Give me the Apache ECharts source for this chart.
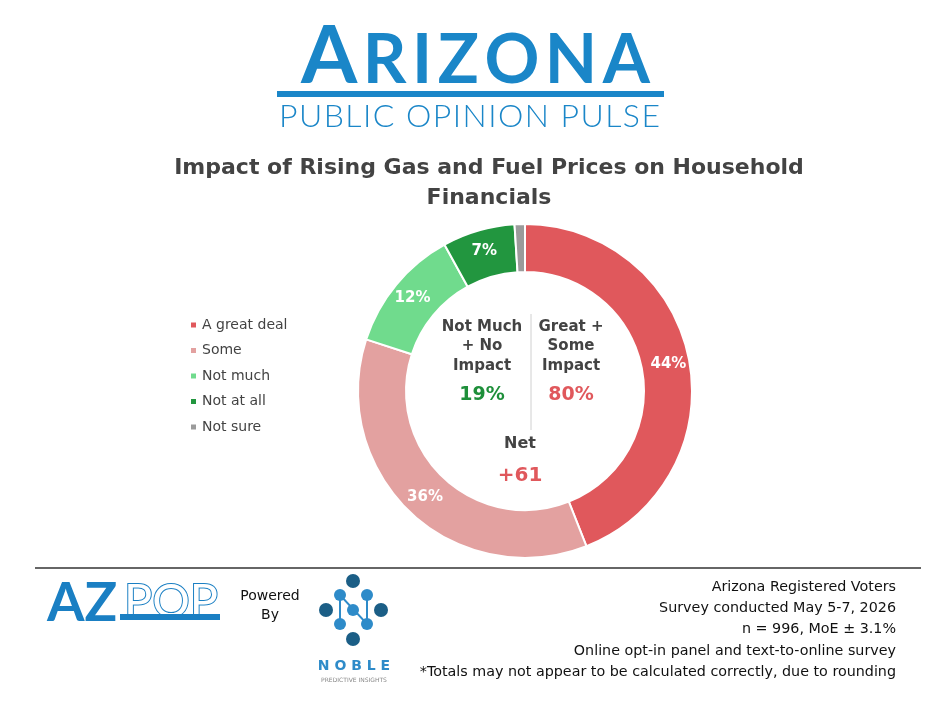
<!DOCTYPE html>
<html><head><meta charset="utf-8">
<script src="https://cdn.jsdelivr.net/npm/echarts@6/dist/echarts.min.js"></script>
<style>html,body{margin:0;padding:0;background:#fff}#c{width:936px;height:706px}</style>
</head><body><div id="c"></div>
<script>
const categories = ['A great deal', 'Some', 'Not much', 'Not at all', 'Not sure'];
const values = [44, 36, 12, 7, 1];
const colors = ['#E0585C', '#E3A1A0', '#70DB8D', '#22963F', '#9B9B9B'];
const summaryLeftLabel = ['Not Much', '+ No', 'Impact'];
const summaryLeftValue = '19%';
const summaryRightLabel = ['Great +', 'Some', 'Impact'];
const summaryRightValue = '80%';
const netLabel = 'Net';
const netValue = '+61';
const footerLines = [
  'Arizona Registered Voters',
  'Survey conducted May 5-7, 2026',
  'n = 996, MoE \u00b1 3.1%',
  'Online opt-in panel and text-to-online survey',
  '*Totals may not appear to be calculated correctly, due to rounding'
];

const F = 'DejaVu Sans';
const BLUE = '#1A86C8';
const chart = echarts.init(document.getElementById('c'));
const mctx = document.createElement('canvas').getContext('2d');

// lay out letters spread to fill a given width
function spreadText(gfx, letters, x0, x1, capBottom, color) {
  const widths = letters.map(l => { mctx.font = l.weight + ' ' + l.size + 'px Lato'; return mctx.measureText(l.ch).width; });
  const total = widths.reduce((a,b)=>a+b,0);
  const gap = (x1 - x0 - total) / (letters.length - 1);
  let x = x0;
  letters.forEach((l,i) => {
    if (l.ch !== ' ') gfx.push({type:'text', left:x, top:capBottom - 0.83*l.size,
      style:{text:l.ch, font:l.weight + ' ' + l.size + 'px Lato', fill:color}});
    x += widths[i] + gap;
  });
}

const gfx = [];
// Header logo
spreadText(gfx, [{ch:'A',size:81,weight:'bold'}].concat('RIZONA'.split('').map(c=>({ch:c,size:68,weight:'bold'}))), 301, 650, 84, BLUE);
gfx.push({type:'rect', shape:{x:277, y:91, width:387, height:6}, style:{fill:BLUE}});
spreadText(gfx, 'PUBLIC OPINION PULSE'.split('').map(c=>({ch:c,size:32,weight:'300'})), 279, 660, 127, BLUE);
// centre summary
summaryLeftLabel.forEach((t,i)=>gfx.push({type:'text', x:482, y:327+i*19.5, style:{text:t, font:'bold 15px "'+F+'"', fill:'#434343', align:'center', verticalAlign:'middle'}}));
gfx.push({type:'text', x:482, y:395, style:{text:summaryLeftValue, font:'bold 19px "'+F+'"', fill:'#1E8F3A', align:'center', verticalAlign:'middle'}});
summaryRightLabel.forEach((t,i)=>gfx.push({type:'text', x:571, y:327+i*19.5, style:{text:t, font:'bold 15px "'+F+'"', fill:'#434343', align:'center', verticalAlign:'middle'}}));
gfx.push({type:'text', x:571, y:395, style:{text:summaryRightValue, font:'bold 19px "'+F+'"', fill:'#E0585C', align:'center', verticalAlign:'middle'}});
gfx.push({type:'line', shape:{x1:531, y1:314, x2:531, y2:430}, style:{stroke:'#D0D0D0', lineWidth:1}});
gfx.push({type:'text', x:520, y:444, style:{text:netLabel, font:'bold 16px "'+F+'"', fill:'#434343', align:'center', verticalAlign:'middle'}});
gfx.push({type:'text', x:520, y:476, style:{text:netValue, font:'bold 20px "'+F+'"', fill:'#E0585C', align:'center', verticalAlign:'middle'}});
// footer rule
gfx.push({type:'line', shape:{x1:35, y1:568, x2:921, y2:568}, style:{stroke:'#333', lineWidth:1.5}});
// footer text
footerLines.forEach((t,i)=>gfx.push({type:'text', x:896, y:587+i*21.3, style:{text:t, font:'14.3px "'+F+'"', fill:'#111', align:'right', verticalAlign:'middle'}}));
// AZPOP logo
gfx.push({type:'text', left:47, top:577, style:{text:'AZ', font:'bold 54px Lato', fill:'#1A7FC3'}});
gfx.push({type:'text', left:123, top:577, style:{text:'POP', font:'47px Lato', fill:'#fff', stroke:'#1A7FC3', lineWidth:2}});
gfx.push({type:'rect', shape:{x:120, y:614, width:100, height:6}, style:{fill:'#1A7FC3'}});
// Powered By
gfx.push({type:'text', x:270, y:596, style:{text:'Powered', font:'14px "'+F+'"', fill:'#111', align:'center', verticalAlign:'middle'}});
gfx.push({type:'text', x:270, y:615, style:{text:'By', font:'14px "'+F+'"', fill:'#111', align:'center', verticalAlign:'middle'}});
// Noble logo
const dk = '#1B5E86', lt = '#2E8BC9';
const pts = {a:[340,595], b:[340,624], c:[367,595], d:[367,624]};
gfx.push({type:'polyline', shape:{points:[pts.b, pts.a, pts.d, pts.c]}, style:{stroke:lt, lineWidth:2, fill:null}});
[[353,581],[326,610],[381,610],[353,639]].forEach(p=>gfx.push({type:'circle', shape:{cx:p[0], cy:p[1], r:7}, style:{fill:dk}}));
[pts.a, pts.b, pts.c, pts.d, [353,610]].forEach(p=>gfx.push({type:'circle', shape:{cx:p[0], cy:p[1], r:6}, style:{fill:lt}}));
gfx.push({type:'text', x:354, y:666, style:{text:'N O B L E', font:'bold 14px "'+F+'"', fill:'#2E8BC9', align:'center', verticalAlign:'middle'}});
gfx.push({type:'text', x:354, y:680, style:{text:'PREDICTIVE INSIGHTS', font:'6px "'+F+'"', fill:'#888', align:'center', verticalAlign:'middle'}});

chart.setOption({
  animation:false,
  title:{text:'Impact of Rising Gas and Fuel Prices on Household\nFinancials', left:484, top:148, textAlign:'center',
    textStyle:{fontFamily:F, fontWeight:'bold', fontSize:22, color:'#434343', lineHeight:30}},
  legend:{orient:'vertical', left:184, top:313, itemWidth:7, itemHeight:7, icon:'rect', itemGap:11.5,
    textStyle:{fontFamily:F, fontSize:14, color:'#434343'}, data:categories},
  color:colors,
  series:[{type:'pie', center:[525,391], radius:[119,167], startAngle:90, clockwise:true,
    itemStyle:{borderColor:'#fff', borderWidth:2},
    label:{position:'inside', color:'#fff', fontFamily:F, fontWeight:'bold', fontSize:15,
      formatter:p=>p.value>=5?p.value+'%':''},
    labelLine:{show:false}, emphasis:{disabled:true},
    data:categories.map((c,i)=>({name:c, value:values[i]}))}],
  graphic:gfx
});
</script></body></html>
